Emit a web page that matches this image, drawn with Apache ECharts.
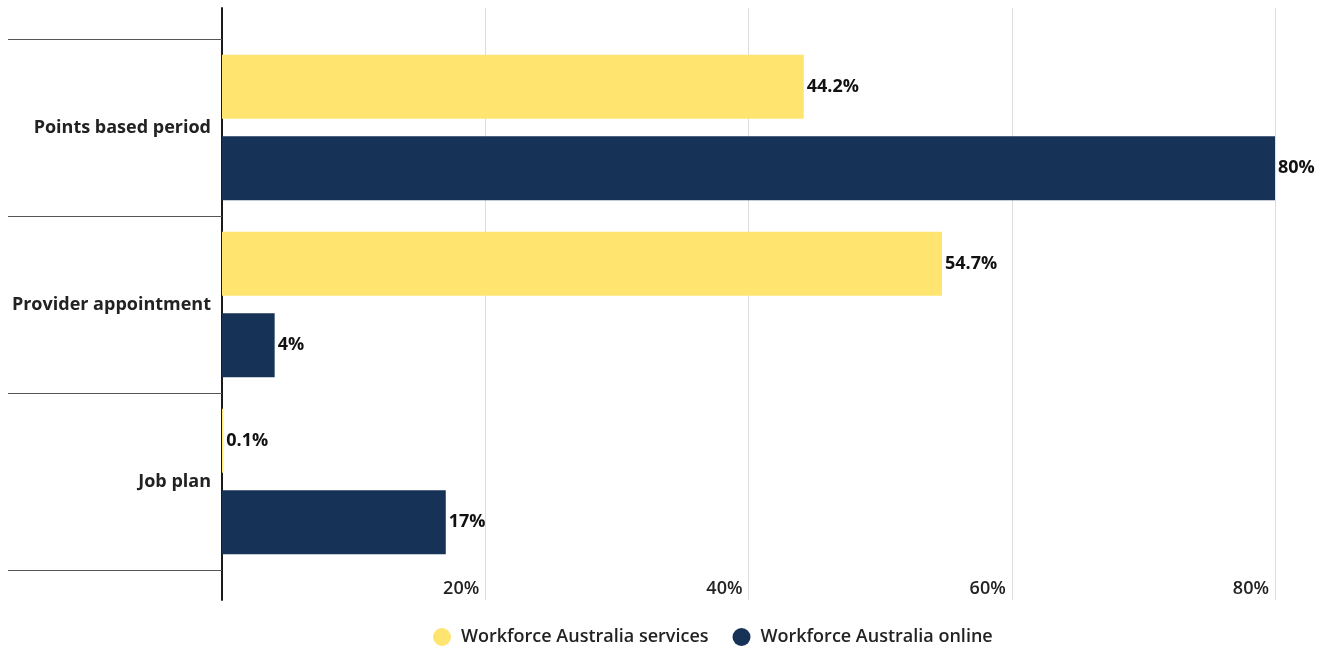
<!DOCTYPE html>
<html>
<head>
<meta charset="utf-8">
<script src="https://cdn.jsdelivr.net/npm/echarts@6/dist/echarts.min.js"></script>
<style>
  html, body { margin: 0; padding: 0; background: #fff; }
  #chart { width: 1331px; height: 648px; }
</style>
</head>
<body>
<div id="chart"></div>
<script>
const categories = ['Points based period', 'Provider appointment', 'Job plan'];
const servicesValues = [44.2, 54.7, 0.1];
const onlineValues = [80, 4, 17];
const seriesNames = ['Workforce Australia services', 'Workforce Australia online'];
const xMax = 80;
const xInterval = 20;

const FONT = '"Open Sans", "Noto Sans", sans-serif';
const YELLOW = '#FFE470';
const NAVY = '#163257';

const chart = echarts.init(document.getElementById('chart'), null, { renderer: 'canvas' });

const valueLabel = {
  show: true,
  position: 'right',
  distance: 3,
  fontFamily: FONT,
  fontSize: 18,
  fontWeight: 'bold',
  color: '#111',
  formatter: p => p.value + '%'
};

chart.setOption({
  animation: false,
  textStyle: { fontFamily: FONT },
  color: [YELLOW, NAVY],
  legend: {
    left: 428,
    top: 623,
    itemWidth: 18,
    itemHeight: 18,
    itemGap: 24,
    icon: 'circle',
    textStyle: {
      fontFamily: FONT,
      fontSize: 18,
      fontWeight: 600,
      color: '#222',
      padding: [0, 0, 0, 5]
    },
    data: seriesNames
  },
  grid: [
    // frame grid: gridlines, x labels and the vertical axis line
    { left: 222, right: 56, top: 8, height: 592 },
    // bar grid: categories and bars
    { left: 222, right: 56, top: 39, height: 531 }
  ],
  xAxis: [
    {
      gridIndex: 0,
      type: 'value',
      min: 0,
      max: xMax,
      interval: xInterval,
      axisLine: { show: false },
      axisTick: { show: false },
      splitLine: { show: true, lineStyle: { color: '#dcdde3', width: 1 } },
      axisLabel: {
        inside: true,
        margin: 2,
        align: 'right',
        padding: [0, 6, 0, 0],
        fontFamily: FONT,
        fontSize: 18,
        fontWeight: 600,
        color: '#222',
        formatter: v => v === 0 ? '' : v + '%'
      }
    },
    {
      gridIndex: 1,
      type: 'value',
      min: 0,
      max: xMax,
      interval: xInterval,
      show: false
    }
  ],
  yAxis: [
    {
      gridIndex: 0,
      type: 'category',
      data: [''],
      axisLine: { show: true, lineStyle: { color: '#1a1a1a', width: 2 } },
      axisTick: { show: false },
      axisLabel: { show: false },
      splitLine: { show: false }
    },
    {
      gridIndex: 1,
      type: 'category',
      inverse: true,
      data: categories,
      axisLine: { show: false },
      axisTick: { show: true, length: 214, lineStyle: { color: '#555', width: 1 } },
      axisLabel: {
        margin: 11,
        fontFamily: FONT,
        fontSize: 18,
        fontWeight: 'bold',
        color: '#222'
      }
    }
  ],
  series: [
    {
      name: seriesNames[0],
      type: 'bar',
      xAxisIndex: 1,
      yAxisIndex: 1,
      data: servicesValues,
      barWidth: 64,
      barGap: '27%',
      itemStyle: { color: YELLOW },
      label: valueLabel
    },
    {
      name: seriesNames[1],
      type: 'bar',
      xAxisIndex: 1,
      yAxisIndex: 1,
      data: onlineValues,
      barWidth: 64,
      barGap: '27%',
      itemStyle: { color: NAVY },
      label: valueLabel
    }
  ]
});
</script>
</body>
</html>
